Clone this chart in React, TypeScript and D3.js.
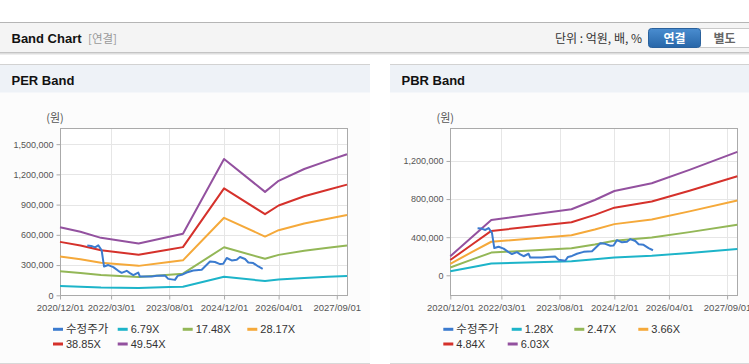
import React, { useEffect, useRef } from 'react';
import * as d3 from 'd3';

// x-axis tick labels (same for both charts)
const xTickLabels = ['2020/12/01', '2022/03/01', '2023/08/01', '2024/12/01', '2026/04/01', '2027/09/01'];
const xDomain = ['2020-12-01', '2027-12-01'];

// 수정주가 (adjusted price), shared by both charts
const priceDates = [
  '2021-08-01', '2021-09-05', '2021-10-09', '2021-11-07', '2021-12-07', '2021-12-28', '2022-02-04', '2022-03-21',
  '2022-05-04', '2022-06-03', '2022-07-18', '2022-08-16', '2022-09-15', '2022-10-29', '2022-11-13', '2023-02-26',
  '2023-04-11', '2023-06-24', '2023-07-23', '2023-09-21', '2023-10-15', '2023-11-20', '2024-01-03', '2024-03-02',
  '2024-05-16', '2024-07-29', '2024-09-11', '2024-10-26', '2024-11-24', '2024-12-25', '2025-02-07', '2025-03-24',
  '2025-04-22', '2025-06-06', '2025-07-05', '2025-08-18', '2025-10-02', '2025-11-10',
];
const priceValues = [
  493000, 490000, 476000, 496000, 446000, 286000, 300000, 280000,
  243000, 223000, 243000, 220000, 200000, 226000, 186000, 186000,
  193000, 196000, 163000, 153000, 193000, 203000, 226000, 246000,
  253000, 336000, 330000, 310000, 313000, 370000, 346000, 353000,
  380000, 360000, 326000, 320000, 286000, 263000,
];

// PER band
const perDates = ['2020-12-01', '2021-06-01', '2021-12-01', '2022-11-01', '2023-08-01', '2023-12-01', '2024-12-01', '2025-12-01', '2026-04-01', '2026-11-15', '2027-06-15', '2027-12-01'];
const per679 = [93000, 86000, 78000, 72000, 82000, 85000, 185000, 141000, 156000, 172000, 183000, 192000];
const per1748 = [239000, 222000, 201000, 181000, 205000, 215000, 477000, 362000, 401000, 442000, 471000, 494000];
const per2817 = [384000, 358000, 324000, 292000, 330000, 347000, 769000, 583000, 646000, 713000, 760000, 796000];
const per3885 = [530000, 494000, 447000, 402000, 455000, 478000, 1061000, 805000, 891000, 983000, 1048000, 1098000];
const per4954 = [676000, 630000, 570000, 513000, 580000, 610000, 1353000, 1026000, 1136000, 1253000, 1336000, 1400000];
const perNames = ['6.79X', '17.48X', '28.17X', '38.85X', '49.54X'];
const perTicks = [0, 300000, 600000, 900000, 1200000, 1500000];

// PBR band
const pbrDates = ['2020-12-01', '2021-06-10', '2021-12-01', '2023-11-15', '2024-06-10', '2024-12-01', '2025-10-30', '2026-10-01', '2027-12-01'];
const pbr128 = [42000, 85000, 123000, 147000, 168000, 188000, 205000, 235000, 275000];
const pbr247 = [82000, 164000, 238000, 284000, 324000, 363000, 396000, 453000, 531000];
const pbr366 = [121000, 243000, 352000, 421000, 480000, 537000, 586000, 671000, 786000];
const pbr484 = [160000, 321000, 466000, 556000, 634000, 710000, 775000, 888000, 1039000];
const pbr603 = [200000, 400000, 580000, 693000, 790000, 885000, 966000, 1106000, 1295000];
const pbrNames = ['1.28X', '2.47X', '3.66X', '4.84X', '6.03X'];
const pbrTicks = [0, 400000, 800000, 1200000];

const colors = ['#3b7bcf', '#1db4c9', '#93b757', '#f5a93a', '#d5312b', '#93519f'];
const LATIN = '"Liberation Sans", Arial, sans-serif';
const KR = '"Noto Sans CJK KR", "Liberation Sans", sans-serif';

const parse = d3.timeParse('%Y-%m-%d');
const parseTick = d3.timeParse('%Y/%m/%d');

type ChartCfg = {
  title: string;
  panelX: number;
  panelW: number;
  plotX: [number, number];
  yDomain: [number, number];
  yTicks: number[];
  bandDates: string[];
  bands: number[][];
  names: string[];
  legendRow1: number[];
  legendRow2: number[];
};

export default function App() {
  const svgRef = useRef<SVGSVGElement>(null);

  useEffect(() => {
    document.body.style.margin = '0';
    if (!svgRef.current) return;
    const svg = d3.select(svgRef.current);
    svg.selectAll('*').remove();

    // ---- top header bar
    const defs = svg.append('defs');
    const grad = defs.append('linearGradient').attr('id', 'btn').attr('x1', 0).attr('x2', 0).attr('y1', 0).attr('y2', 1);
    grad.append('stop').attr('offset', '0%').attr('stop-color', '#4a8dd0');
    grad.append('stop').attr('offset', '100%').attr('stop-color', '#2766a8');

    svg.append('rect').attr('x', 0).attr('y', 0).attr('width', 749).attr('height', 364).attr('fill', '#fff');
    svg.append('rect').attr('x', 0).attr('y', 22).attr('width', 749).attr('height', 31).attr('fill', '#f4f4f4');
    svg.append('line').attr('x1', 0).attr('x2', 749).attr('y1', 22.5).attr('y2', 22.5).attr('stroke', '#b5b5b5');
    svg.append('line').attr('x1', 0).attr('x2', 749).attr('y1', 52.5).attr('y2', 52.5).attr('stroke', '#c4c4c4');
    svg.append('line').attr('x1', 0).attr('x2', 749).attr('y1', 53.5).attr('y2', 53.5).attr('stroke', '#dedede');
    svg.append('line').attr('x1', 0).attr('x2', 749).attr('y1', 54.5).attr('y2', 54.5).attr('stroke', '#eeeeee');

    svg.append('text').attr('x', 11.5).attr('y', 42.8).attr('font-family', LATIN).attr('font-weight', 'bold')
      .attr('font-size', 13).attr('fill', '#111').text('Band Chart');
    svg.append('text').attr('x', 88).attr('y', 42.5).attr('font-family', KR)
      .attr('font-size', 11.5).attr('fill', '#999').text('[연결]');
    svg.append('text').attr('x', 642).attr('y', 42.5).attr('font-family', KR).attr('text-anchor', 'end')
      .attr('font-size', 12).attr('fill', '#333').text('단위 : 억원, 배, %');

    svg.append('rect').attr('x', 700).attr('y', 28.5).attr('width', 60).attr('height', 19)
      .attr('fill', '#fff').attr('stroke', '#c9c9c9');
    svg.append('text').attr('x', 724.5).attr('y', 42.5).attr('font-family', KR).attr('font-weight', 'bold')
      .attr('text-anchor', 'middle').attr('font-size', 12).attr('fill', '#666').text('별도');
    svg.append('rect').attr('x', 648.5).attr('y', 28.5).attr('width', 52).attr('height', 19).attr('rx', 3)
      .attr('fill', 'url(#btn)').attr('stroke', '#2a619c');
    svg.append('text').attr('x', 674.5).attr('y', 42.5).attr('font-family', KR).attr('font-weight', 'bold')
      .attr('text-anchor', 'middle').attr('font-size', 12).attr('fill', '#fff').text('연결');

    const charts: ChartCfg[] = [
      {
        title: 'PER Band', panelX: 0, panelW: 370, plotX: [60, 347],
        yDomain: [0, 1660000], yTicks: perTicks,
        bandDates: perDates, bands: [per679, per1748, per2817, per3885, per4954], names: perNames,
        legendRow1: [53, 117.7, 182.7, 247.3], legendRow2: [53, 117.7],
      },
      {
        title: 'PBR Band', panelX: 390, panelW: 370, plotX: [450.3, 737.3],
        yDomain: [-210000, 1546000], yTicks: pbrTicks,
        bandDates: pbrDates, bands: [pbr128, pbr247, pbr366, pbr484, pbr603], names: pbrNames,
        legendRow1: [443.3, 511.7, 574.3, 638.3], legendRow2: [443.3, 507.7],
      },
    ];

    const plotTop = 128;
    const plotBottom = 295.3;

    charts.forEach((c) => {
      const p = svg.append('g');
      // panel
      p.append('rect').attr('x', c.panelX).attr('y', 92.5).attr('width', c.panelW).attr('height', 271)
        .attr('fill', '#fcfcfc');
      p.append('rect').attr('x', c.panelX).attr('y', 64.5).attr('width', c.panelW).attr('height', 28)
        .attr('fill', '#eef2f7');
      p.append('line').attr('x1', c.panelX).attr('x2', c.panelX + c.panelW).attr('y1', 64.5).attr('y2', 64.5)
        .attr('stroke', '#d2d2d2');
      p.append('line').attr('x1', c.panelX).attr('x2', c.panelX + c.panelW).attr('y1', 363.5).attr('y2', 363.5)
        .attr('stroke', '#d8d8d8');
      p.append('text').attr('x', c.panelX + 11.5).attr('y', 84.5).attr('font-family', LATIN)
        .attr('font-weight', 'bold').attr('font-size', 13).attr('fill', '#111').text(c.title);

      const x = d3.scaleTime()
        .domain(xDomain.map((d) => parse(d) as Date))
        .range(c.plotX);
      const y = d3.scaleLinear().domain(c.yDomain).range([plotBottom, plotTop]);
      const xTicks = xTickLabels.map((d) => parseTick(d) as Date);

      p.append('rect').attr('x', c.plotX[0]).attr('y', plotTop).attr('width', c.plotX[1] - c.plotX[0])
        .attr('height', plotBottom - plotTop).attr('fill', '#fff');

      // grid
      p.append('g').selectAll('line').data(c.yTicks).join('line')
        .attr('x1', c.plotX[0]).attr('x2', c.plotX[1])
        .attr('y1', (d) => Math.round(y(d)) + 0.5).attr('y2', (d) => Math.round(y(d)) + 0.5)
        .attr('stroke', '#e6e6e6');
      p.append('g').selectAll('line').data(xTicks).join('line')
        .attr('x1', (d) => Math.round(x(d)) + 0.5).attr('x2', (d) => Math.round(x(d)) + 0.5)
        .attr('y1', plotTop).attr('y2', plotBottom)
        .attr('stroke', '#e6e6e6');

      // axes
      const yAxis = p.append('g')
        .attr('transform', `translate(${Math.round(c.plotX[0]) + 0.5},0)`)
        .call(d3.axisLeft(y).tickValues(c.yTicks).tickSize(4).tickPadding(3).tickFormat(d3.format(',')));
      const xAxis = p.append('g')
        .attr('transform', `translate(0,${Math.round(plotBottom) + 0.5})`)
        .call(d3.axisBottom(x).tickValues(xTicks).tickSize(4).tickPadding(5)
          .tickFormat((d) => d3.timeFormat('%Y/%m/%d')(d as Date)));
      [yAxis, xAxis].forEach((a) => {
        a.select('.domain').remove();
        a.selectAll('line').attr('stroke', '#aaa');
        a.selectAll('text').attr('fill', '#555').attr('font-family', LATIN);
      });
      yAxis.selectAll('text').attr('font-size', 9);
      xAxis.selectAll('text').attr('font-size', 9.5);

      p.append('rect')
        .attr('x', Math.round(c.plotX[0]) + 0.5).attr('y', plotTop + 0.5)
        .attr('width', Math.round(c.plotX[1] - c.plotX[0])).attr('height', Math.round(plotBottom - plotTop))
        .attr('fill', 'none').attr('stroke', '#aaa');

      p.append('text').attr('x', c.plotX[0] - 5).attr('y', 118.3).attr('dy', '0.35em')
        .attr('text-anchor', 'middle').attr('font-family', KR).attr('font-size', 11).attr('fill', '#555')
        .text('(원)');

      // lines
      const line = d3.line<[Date, number]>().x((d) => x(d[0])).y((d) => y(d[1]));
      const bandDates = c.bandDates.map((d) => parse(d) as Date);
      c.bands.forEach((vals, i) => {
        p.append('path')
          .datum(vals.map((v, j) => [bandDates[j], v] as [Date, number]))
          .attr('d', line)
          .attr('fill', 'none').attr('stroke', colors[i + 1]).attr('stroke-width', 2)
          .attr('stroke-linejoin', 'round');
      });
      p.append('path')
        .datum(priceValues.map((v, j) => [parse(priceDates[j]) as Date, v] as [Date, number]))
        .attr('d', line)
        .attr('fill', 'none').attr('stroke', colors[0]).attr('stroke-width', 2)
        .attr('stroke-linejoin', 'round');

      // legend
      const items = ['수정주가', ...c.names];
      const pos = [...c.legendRow1.map((lx) => [lx, 329.3]), ...c.legendRow2.map((lx) => [lx, 344])];
      items.forEach((name, i) => {
        const [lx, ly] = pos[i];
        p.append('line').attr('x1', lx).attr('x2', lx + 10).attr('y1', ly).attr('y2', ly)
          .attr('stroke', colors[i]).attr('stroke-width', 3);
        p.append('text').attr('x', lx + 13).attr('y', ly).attr('dy', '0.36em')
          .attr('font-family', i === 0 ? KR : LATIN).attr('font-size', i === 0 ? 11.5 : 11)
          .attr('fill', '#333').text(name);
      });
    });
  }, []);

  return (
    <div style={{ position: 'absolute', left: 0, top: 0 }}>
      <svg ref={svgRef} width={749} height={364} style={{ display: 'block' }} />
    </div>
  );
}
